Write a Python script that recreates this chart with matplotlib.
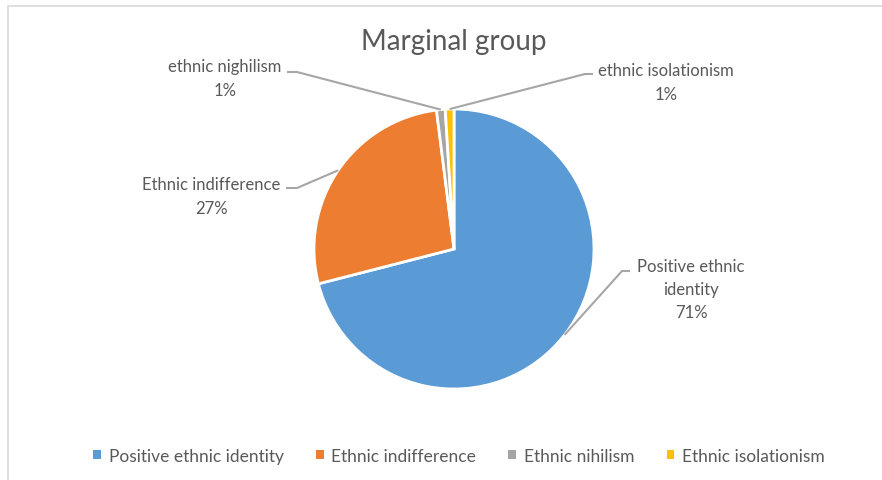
import matplotlib
matplotlib.use("Agg")
import matplotlib.pyplot as plt
import numpy as np
from matplotlib.patches import Rectangle

categories = ["Positive ethnic identity", "Ethnic indifference", "Ethnic nihilism", "Ethnic isolationism"]
values = [71, 27, 1, 1]
slice_labels = ["Positive ethnic\nidentity", "Ethnic indifference", "ethnic nighilism", "ethnic isolationism"]
colors = ["#5B9BD5", "#ED7D31", "#A5A5A5", "#FFC000"]
title = "Marginal group"

W, H = 882, 481
plt.rcParams['font.family'] = ['Lato', 'DejaVu Sans']
fig = plt.figure(figsize=(W / 100, H / 100), dpi=100)
ax = fig.add_axes([0, 0, 1, 1])

# chart border
ax.add_patch(Rectangle((8, -5), W, H - 7 + 5, fill=False, edgecolor="#D9D9D9", lw=1.2))

cx, cy, R = 454, H - 250, 140
wedges, _ = ax.pie(values, colors=colors, startangle=90, counterclock=False,
                   center=(cx, cy), radius=R, frame=True,
                   wedgeprops=dict(edgecolor="white", linewidth=2))
ax.set_xlim(0, W)
ax.set_ylim(0, H)
ax.set_aspect("equal")
ax.axis("off")

txt = "#595959"
line_c = "#A6A6A6"
fs = 12

# label placement: (text x, text block centre y in pixels from top, elbow point, label-side end)
label_pos = [
    (691, 290, (622, 272), (630, 272)),
    (211, 197, (297, 189), (286, 189)),
    (225, 79, (297, 73), (287, 73)),
    (666, 83, (585, 75), (593, 75)),
]

total = sum(values)
cum = 0
for i, v in enumerate(values):
    mid = 90 - (cum + v / 2) / total * 360
    cum += v
    th = np.deg2rad(mid)
    px, py = cx + R * np.cos(th), cy + R * np.sin(th)
    tx, ty, elbow, end = label_pos[i]
    ax.plot([px, elbow[0], end[0]], [py, H - elbow[1], H - end[1]], color=line_c, lw=1.5,
            solid_capstyle="butt")
    ax.text(tx, H - ty, f"{slice_labels[i]}\n{v}%", ha="center", va="center", color=txt,
            fontsize=fs, linespacing=1.55)

ax.text(cx, H - 42, title, ha="center", va="center", color=txt, fontsize=20)

leg = fig.legend(wedges, categories, loc="center", bbox_to_anchor=(459 / W, 1 - 457 / H),
                 ncol=4, frameon=False, fontsize=12.5, labelcolor=txt,
                 handlelength=0.45, handleheight=0.45, handletextpad=0.45, columnspacing=1.85)
for h in leg.legend_handles:
    h.set_edgecolor("none")

fig.savefig("out.png", dpi=100)
